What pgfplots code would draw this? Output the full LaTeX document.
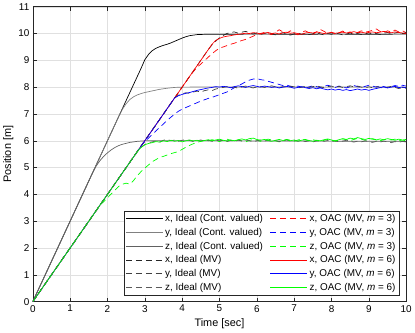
\documentclass[border=0pt]{standalone}
\usepackage{fontspec}
\setmainfont{Liberation Sans}
\usepackage{pgfplots}
\pgfplotsset{compat=1.18}

\definecolor{oacred}{RGB}{255,0,0}
\definecolor{oacblue}{RGB}{0,0,255}
\definecolor{oacgreen}{RGB}{0,255,0}
\colorlet{xcont}{black}
\colorlet{ycont}{black!50}
\colorlet{zcont}{black!62}
\colorlet{xmv}{black!85}
\colorlet{ymv}{black!75}
\colorlet{zmv}{black!65}

\tikzset{mvdash/.style={dash pattern=on 6bp off 4bp}}

\begin{document}
\begin{tikzpicture}
\begin{axis}[
  scale only axis,
  width=376bp, height=297bp,
  xmin=0, xmax=10,
  ymin=0, ymax=11,
  xtick={0,1,...,10},
  ytick={0,1,...,11},
  xlabel={Time [sec]},
  ylabel={Position [m]},
  label style={font=\fontsize{11}{13}\selectfont},
  ticklabel style={font=\fontsize{10}{12}\selectfont},
  /pgf/number format/assume math mode=true,
  xlabel style={yshift=0bp},
  ylabel style={yshift=-2bp},
  grid=major,
  major grid style={black!12, line width=0.4pt},
  axis line style={black!85, line width=0.5pt},
  tick style={black!85, line width=0.5pt},
  major tick length=4bp,
  every axis plot/.append style={line width=0.7bp},
  legend columns=2,
  legend cell align=left,
  legend style={
    at={(0.981,0.02)}, anchor=south east,
    font=\fontsize{10}{12}\selectfont,
    draw=black!85, line width=0.5pt,
    inner sep=1.5bp, row sep=1.2bp,
    /tikz/every even column/.append style={column sep=5bp},
  },
  legend image code/.code={\draw[#1, line width=1.1bp] (0bp,0bp) -- (37bp,0bp);},
]

% plotted in legend order (row by row); the coloured m = 6 lines end on top

% x, ideal, continuous valued
\addplot[xcont] coordinates {
(0,0)(2.9,8.7)(3.0,9.02)(3.1,9.22)(3.2,9.36)(3.3,9.45)(3.4,9.51)(3.5,9.56)(3.6,9.6)(3.7,9.65)
(3.8,9.71)(3.9,9.77)(4.0,9.83)(4.1,9.88)(4.2,9.92)(4.3,9.94)(4.4,9.96)(4.6,9.97)(5,9.97)
(6,9.98)(7,9.97)(8,9.98)(9,9.97)(10,9.98)};
\addlegendentry{x, Ideal (Cont. valued)}

% x, OAC, m = 3
\addplot[oacred, mvdash] coordinates {
(0,0)(4.2,8.4)(4.3,8.58)(4.4,8.74)(4.5,8.86)(4.6,8.99)(4.7,9.12)(4.8,9.24)(4.9,9.36)(5.0,9.45)
(5.1,9.5)(5.2,9.55)(5.3,9.6)(5.4,9.64)(5.5,9.69)(5.6,9.74)(5.7,9.78)(5.8,9.84)(5.9,9.9)(6.0,9.96)
(6.1,10.0)(6.2,10.04)(6.3,10.0)(6.4,9.96)(6.5,10.05)(6.6,10.14)(6.7,10.06)(6.8,10.02)(6.9,10.1)(7.0,10.0)
(7.1,9.95)(7.2,10.04)(7.3,10.1)(7.4,10.03)(7.5,9.97)(7.6,10.06)(7.7,10.15)(7.8,10.08)(7.9,10.0)(8.0,10.05)
(8.1,9.98)(8.2,10.03)(8.3,10.09)(8.4,10.02)(8.5,10.06)(8.6,9.99)(8.7,10.04)(8.8,10.1)(8.9,10.05)(9.0,10.08)
(9.1,10.12)(9.2,10.17)(9.3,10.08)(9.4,10.03)(9.5,10.1)(9.6,10.05)(9.7,10.13)(9.8,10.06)(9.9,10.1)(10.0,10.03)};
\addlegendentry{x, OAC (MV, \textit{m} = 3)}

% y, ideal, continuous valued
\addplot[ycont] coordinates {
(0,0)(2.3,6.9)(2.4,7.17)(2.5,7.38)(2.6,7.54)(2.7,7.64)(2.8,7.71)(2.9,7.76)(3.0,7.8)(3.2,7.86)
(3.4,7.92)(3.6,7.96)(3.8,7.99)(4,8.0)(5,8.01)(6,8.0)(7,8.01)(8,8.0)(9,8.01)(10,8.0)};
\addlegendentry{y, Ideal (Cont. valued)}

% y, OAC, m = 3
\addplot[oacblue, mvdash] coordinates {
(0,0)(2.95,5.9)(3.0,5.96)(3.1,6.1)(3.2,6.24)(3.3,6.37)(3.4,6.5)(3.5,6.63)(3.6,6.76)(3.7,6.88)
(3.8,7.0)(3.9,7.1)(4.0,7.18)(4.1,7.24)(4.2,7.3)(4.3,7.36)(4.4,7.42)(4.5,7.48)(4.6,7.53)(4.7,7.58)
(4.8,7.62)(4.9,7.67)(5.0,7.72)(5.1,7.77)(5.2,7.82)(5.3,7.9)(5.4,7.98)(5.5,8.05)(5.6,8.12)(5.7,8.2)
(5.8,8.26)(5.9,8.3)(6.0,8.32)(6.1,8.28)(6.2,8.26)(6.3,8.22)(6.4,8.18)(6.5,8.14)(6.6,8.1)(6.7,8.06)
(6.8,8.08)(6.9,8.03)(7.0,8.0)(7.1,8.04)(7.2,8.0)(7.3,7.96)(7.4,8.01)(7.5,8.05)(7.6,8.02)(7.7,7.98)
(7.8,8.03)(7.9,8.07)(8.0,8.03)(8.1,7.99)(8.2,8.04)(8.3,8.01)(8.4,7.97)(8.5,8.02)(8.6,8.06)(8.7,8.02)
(8.8,7.98)(8.9,8.03)(9.0,8.07)(9.1,8.04)(9.2,8.0)(9.3,8.05)(9.4,8.02)(9.5,7.98)(9.6,8.02)(9.7,8.06)
(9.8,8.03)(9.9,8.07)(10.0,8.04)};
\addlegendentry{y, OAC (MV, \textit{m} = 3)}

% z, ideal, continuous valued
\addplot[zcont] coordinates {
(0,0)(1.6,4.8)(1.7,5.06)(1.8,5.26)(1.9,5.42)(2.0,5.55)(2.1,5.66)(2.2,5.75)(2.3,5.82)(2.4,5.87)
(2.6,5.94)(2.8,5.98)(3,6.0)(5,6.0)(7,5.99)(10,5.98)};
\addlegendentry{z, Ideal (Cont. valued)}

% z, OAC, m = 3
\addplot[oacgreen, mvdash] coordinates {
(0,0)(1.8,3.6)(1.9,3.73)(2.0,3.87)(2.1,4.02)(2.2,4.16)(2.3,4.3)(2.4,4.38)(2.5,4.42)(2.6,4.38)
(2.7,4.52)(2.8,4.7)(2.9,4.85)(3.0,4.98)(3.1,5.1)(3.2,5.22)(3.3,5.3)(3.4,5.38)(3.5,5.42)(3.6,5.47)
(3.7,5.52)(3.8,5.56)(3.9,5.6)(4.0,5.68)(4.1,5.76)(4.2,5.83)(4.3,5.89)(4.4,5.94)(4.5,5.98)(4.6,6.02)
(4.7,6.0)(4.8,6.04)(4.9,6.01)(5.0,5.97)(5.1,6.02)(5.2,6.06)(5.3,6.02)(5.4,5.98)(5.5,6.03)(5.6,6.0)
(5.7,5.96)(5.8,6.01)(5.9,6.05)(6.0,6.02)(6.1,5.98)(6.2,6.02)(6.3,6.06)(6.4,6.03)(6.5,6.0)(6.6,5.96)
(6.7,6.01)(6.8,6.05)(6.9,6.02)(7.0,5.98)(7.1,6.03)(7.2,6.07)(7.3,6.03)(7.4,6.0)(7.5,6.04)(7.6,6.01)
(7.7,5.97)(7.8,6.02)(7.9,6.05)(8.0,6.02)(8.1,5.98)(8.2,6.03)(8.3,6.07)(8.4,6.04)(8.5,6.01)(8.6,6.05)
(8.7,6.09)(8.8,6.06)(8.9,6.02)(9.0,6.05)(9.1,6.08)(9.2,6.04)(9.3,6.0)(9.4,6.04)(9.5,6.07)(9.6,6.03)
(9.7,6.06)(9.8,6.02)(9.9,5.99)(10.0,6.03)};
\addlegendentry{z, OAC (MV, \textit{m} = 3)}

% x, ideal, MV
\addplot[xmv, mvdash] coordinates {
(0,0)(4.7,9.4)(4.8,9.58)(4.9,9.72)(5.0,9.84)(5.1,9.93)(5.2,10.0)(5.3,10.04)(5.4,10.06)(5.5,10.01)
(5.6,10.05)(5.7,10.08)(5.8,10.03)(5.9,9.98)(6.0,10.02)(6.1,9.97)(6.2,10.0)(6.3,10.04)(6.4,9.99)(6.5,9.95)
(6.6,10.0)(6.7,10.03)(6.8,9.98)(6.9,9.94)(7.0,9.99)(7.1,10.02)(7.2,9.97)(7.3,10.01)(7.4,9.96)(7.5,9.99)
(7.6,10.03)(7.7,9.98)(7.8,9.95)(7.9,10.0)(8.0,9.97)(8.1,10.02)(8.2,9.99)(8.3,9.95)(8.4,9.98)(8.5,10.02)
(8.6,9.97)(8.7,10.0)(8.8,9.96)(8.9,10.01)(9.0,9.98)(9.1,10.03)(9.2,10.0)(9.3,9.96)(9.4,10.01)(9.5,10.04)
(9.6,9.99)(9.7,10.02)(9.8,10.05)(9.9,10.01)(10.0,10.03)};
\addlegendentry{x, Ideal (MV)}

% x, OAC, m = 6
\addplot[oacred] coordinates {
(0,0)(4.8,9.6)(4.9,9.74)(5.0,9.82)(5.1,9.87)(5.2,9.9)(5.3,9.92)(5.4,9.95)(5.5,9.97)(5.6,9.99)
(5.7,10.01)(5.8,10.0)(5.9,10.03)(6.0,10.02)(6.1,9.98)(6.2,10.01)(6.3,10.04)(6.4,10.0)(6.5,10.02)(6.6,9.98)
(6.7,10.03)(6.8,10.05)(6.9,10.01)(7.0,10.03)(7.1,10.0)(7.2,9.97)(7.3,10.02)(7.4,10.04)(7.5,10.02)(7.6,10.06)
(7.7,10.03)(7.8,10.0)(7.9,10.02)(8.0,10.04)(8.1,10.01)(8.2,10.03)(8.3,10.05)(8.4,10.02)(8.5,10.04)(8.6,10.07)
(8.7,10.03)(8.8,10.05)(8.9,10.02)(9.0,10.04)(9.1,10.06)(9.2,10.03)(9.3,10.05)(9.4,10.08)(9.5,10.05)(9.6,10.03)
(9.7,10.06)(9.8,10.04)(9.9,10.02)(10.0,10.0)};
\addlegendentry{x, OAC (MV, \textit{m} = 6)}

% y, ideal, MV
\addplot[ymv, mvdash] coordinates {
(0,0)(3.75,7.5)(3.8,7.6)(3.9,7.7)(4.0,7.75)(4.1,7.79)(4.2,7.77)(4.3,7.82)(4.4,7.85)(4.5,7.82)
(4.6,7.87)(4.7,7.9)(4.8,7.87)(4.9,7.93)(5.0,7.96)(5.1,7.99)(5.2,8.02)(5.3,7.98)(5.4,8.0)(5.5,7.96)
(5.6,8.01)(5.7,8.04)(5.8,8.0)(5.9,7.97)(6.0,8.01)(6.1,8.03)(6.2,7.99)(6.3,8.02)(6.4,8.05)(6.5,8.01)
(6.6,7.98)(6.7,8.02)(6.8,8.0)(6.9,8.04)(7.0,8.01)(7.1,7.97)(7.2,8.0)(7.3,8.03)(7.4,7.99)(7.5,8.02)
(7.6,8.05)(7.7,8.01)(7.8,7.98)(7.9,8.02)(8.0,8.04)(8.1,8.0)(8.2,8.03)(8.3,7.99)(8.4,8.02)(8.5,8.05)
(8.6,8.01)(8.7,8.04)(8.8,8.0)(8.9,7.97)(9.0,8.01)(9.1,7.98)(9.2,8.02)(9.3,7.99)(9.4,7.96)(9.5,8.0)
(9.6,8.03)(9.7,7.99)(9.8,7.95)(9.9,7.98)(10.0,7.96)};
\addlegendentry{y, Ideal (MV)}

% y, OAC, m = 6
\addplot[oacblue] coordinates {
(0,0)(3.75,7.5)(3.8,7.6)(3.9,7.68)(4.0,7.73)(4.1,7.77)(4.2,7.8)(4.3,7.84)(4.4,7.88)(4.5,7.91)
(4.6,7.94)(4.7,7.97)(4.8,7.99)(4.9,8.02)(5.0,8.0)(5.1,8.03)(5.2,8.01)(5.3,7.98)(5.4,8.02)(5.5,8.05)
(5.6,8.02)(5.7,7.99)(5.8,8.03)(5.9,8.06)(6.0,8.03)(6.1,8.0)(6.2,8.04)(6.3,8.02)(6.4,7.99)(6.5,8.01)
(6.6,7.97)(6.7,8.0)(6.8,8.03)(6.9,8.0)(7.0,7.96)(7.1,7.99)(7.2,8.02)(7.3,7.98)(7.4,7.95)(7.5,7.98)
(7.6,7.94)(7.7,7.97)(7.8,7.93)(7.9,7.9)(8.0,7.93)(8.1,7.89)(8.2,7.92)(8.3,7.88)(8.4,7.91)(8.5,7.87)
(8.6,7.9)(8.7,7.93)(8.8,7.89)(8.9,7.92)(9.0,7.88)(9.1,7.92)(9.2,7.95)(9.3,7.98)(9.4,8.01)(9.5,7.97)
(9.6,8.0)(9.7,8.03)(9.8,7.98)(9.9,8.01)(10.0,7.97)};
\addlegendentry{y, OAC (MV, \textit{m} = 6)}

% z, ideal, MV
\addplot[zmv, mvdash] coordinates {
(0,0)(2.7,5.4)(2.8,5.6)(2.9,5.75)(3.0,5.86)(3.1,5.92)(3.2,5.96)(3.3,5.99)(3.4,5.95)(3.5,6.02)
(3.6,6.05)(3.7,6.0)(3.8,6.03)(3.9,5.98)(4.0,6.02)(4.1,6.05)(4.2,6.01)(4.3,5.97)(4.4,6.0)(4.5,6.03)
(4.6,5.99)(4.7,6.02)(4.8,5.98)(4.9,6.0)(5.0,6.03)(5.1,6.0)(5.2,5.97)(5.3,6.01)(5.4,5.98)(5.5,6.02)
(5.6,5.99)(5.7,6.03)(5.8,6.0)(5.9,5.96)(6.0,6.0)(6.1,6.03)(6.2,5.99)(6.3,6.02)(6.4,5.98)(6.5,6.01)
(6.6,5.97)(6.7,6.0)(6.8,6.03)(6.9,5.99)(7.0,6.02)(7.1,5.98)(7.2,6.01)(7.3,5.97)(7.4,6.0)(7.5,5.96)
(7.6,5.99)(7.7,6.02)(7.8,5.98)(7.9,6.01)(8.0,5.97)(8.1,6.0)(8.2,5.96)(8.3,5.99)(8.4,6.02)(8.5,5.98)
(8.6,5.95)(8.7,5.99)(8.8,5.96)(8.9,6.0)(9.0,5.97)(9.1,5.94)(9.2,5.98)(9.3,5.95)(9.4,5.99)(9.5,5.96)
(9.6,5.93)(9.7,5.97)(9.8,5.94)(9.9,5.98)(10.0,5.95)};
\addlegendentry{z, Ideal (MV)}

% z, OAC, m = 6
\addplot[oacgreen] coordinates {
(0,0)(2.75,5.5)(2.8,5.6)(2.9,5.75)(3.0,5.85)(3.1,5.9)(3.2,5.93)(3.3,5.97)(3.4,5.95)(3.5,6.0)
(3.6,5.97)(3.7,6.02)(3.8,5.98)(3.9,6.01)(4.0,5.96)(4.1,6.0)(4.2,6.03)(4.3,5.99)(4.4,6.02)(4.5,5.98)
(4.6,6.01)(4.7,6.04)(4.8,6.0)(4.9,6.03)(5.0,6.06)(5.1,6.02)(5.2,5.99)(5.3,6.03)(5.4,6.0)(5.5,6.04)
(5.6,6.07)(5.7,6.03)(5.8,6.08)(5.9,6.1)(6.0,6.05)(6.1,6.02)(6.2,6.05)(6.3,6.01)(6.4,5.98)(6.5,6.02)
(6.6,6.05)(6.7,6.01)(6.8,6.04)(6.9,6.0)(7.0,6.03)(7.1,5.99)(7.2,6.02)(7.3,6.05)(7.4,6.01)(7.5,5.98)
(7.6,6.02)(7.7,6.0)(7.8,6.04)(7.9,6.07)(8.0,6.03)(8.1,6.0)(8.2,6.04)(8.3,6.08)(8.4,6.05)(8.5,6.1)
(8.6,6.07)(8.7,6.12)(8.8,6.08)(8.9,6.05)(9.0,6.09)(9.1,6.06)(9.2,6.03)(9.3,6.07)(9.4,6.04)(9.5,6.08)
(9.6,6.05)(9.7,6.02)(9.8,6.06)(9.9,6.03)(10.0,6.05)};
\addlegendentry{z, OAC (MV, \textit{m} = 6)}

\end{axis}
\end{tikzpicture}
\end{document}
